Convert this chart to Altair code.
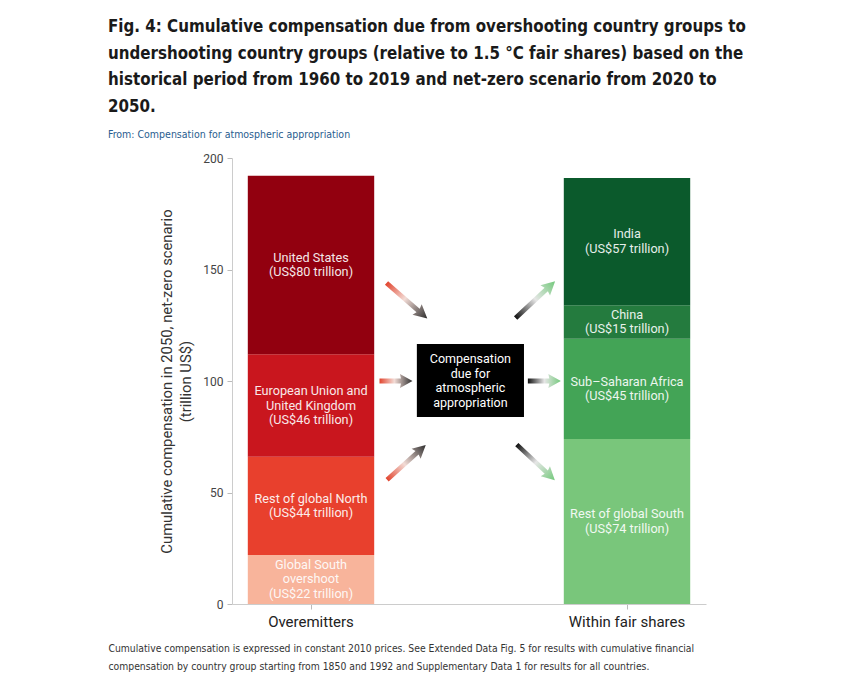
import altair as alt
import pandas as pd

# ---------------- data ----------------
sides = ["Overemitters", "Within fair shares"]

left_groups = ["Global South overshoot", "Rest of global North",
               "European Union and United Kingdom", "United States"]
left_values = [22, 44, 46, 80]
left_labels = ["Global South\novershoot\n(US$22 trillion)",
               "Rest of global North\n(US$44 trillion)",
               "European Union and\nUnited Kingdom\n(US$46 trillion)",
               "United States\n(US$80 trillion)"]
left_colors = ["#f8b49b", "#e8402d", "#c9161e", "#92000f"]

right_groups = ["Rest of global South", "Sub-Saharan Africa", "China", "India"]
right_values = [74, 45, 15, 57]
right_labels = ["Rest of global South\n(US$74 trillion)",
                "Sub\u2013Saharan Africa\n(US$45 trillion)",
                "China\n(US$15 trillion)",
                "India\n(US$57 trillion)"]
right_colors = ["#79c67b", "#43a456", "#247b3e", "#0b5a2c"]

y_ticks = [0, 50, 100, 150, 200]

title_lines = [
    "Fig. 4: Cumulative compensation due from overshooting country groups to",
    "undershooting country groups (relative to 1.5  \u00b0C fair shares) based on the",
    "historical period from 1960 to 2019 and net-zero scenario from 2020 to",
    "2050.",
]
subtitle = "From: Compensation for atmospheric appropriation"
caption = [
    "Cumulative compensation is expressed in constant 2010 prices. See Extended Data Fig. 5 for results with cumulative financial",
    "compensation by country group starting from 1850 and 1992 and Supplementary Data 1 for results for all countries.",
]
y_title = ["Cumulative compensation in 2050, net-zero scenario", "(trillion US$)"]
box_text = "Compensation\ndue for\natmospheric\nappropriation"

rows = []
for i, (g, v, l) in enumerate(zip(left_groups, left_values, left_labels)):
    rows.append({"side": sides[0], "group": g, "value": v, "label": l, "rank": i})
for i, (g, v, l) in enumerate(zip(right_groups, right_values, right_labels)):
    rows.append({"side": sides[1], "group": g, "value": v, "label": l, "rank": i})
df = pd.DataFrame(rows)

# annotation layout (independent 0-100 x scale, y in data units)
box_df = pd.DataFrame([{"ax": 39.0, "ax2": 61.6, "ay": 83.9, "ay2": 116.6}])
box_txt_df = pd.DataFrame([{"ax": 50.3, "ay": 100.0, "t": box_text}])

LONG = "M-1,-0.09L0.55,-0.09L0.5,-0.26L1,0L0.5,0.26L0.55,0.09L-1,0.09Z"
SHORT = "M-1,-0.15L0.3,-0.15L0.24,-0.42L1,0L0.24,0.42L0.3,0.15L-1,0.15Z"
arrows_left = pd.DataFrame([
    {"ax": 36.9, "ay": 136.0, "ang": 41, "sz": 54 * 54, "shp": LONG},
    {"ax": 34.6, "ay": 100.0, "ang": 0, "sz": 33 * 33, "shp": SHORT},
    {"ax": 36.8, "ay": 63.5, "ang": 318, "sz": 52 * 52, "shp": LONG},
])
arrows_right = pd.DataFrame([
    {"ax": 64.0, "ay": 136.5, "ang": 317, "sz": 54 * 54, "shp": LONG},
    {"ax": 65.9, "ay": 100.0, "ang": 0, "sz": 33 * 33, "shp": SHORT},
    {"ax": 64.1, "ay": 63.5, "ang": 43, "sz": 52 * 52, "shp": LONG},
])

grad_left = {"gradient": "linear", "x1": 0, "y1": 0, "x2": 1, "y2": 0,
             "stops": [{"offset": 0, "color": "#e2452f"},
                       {"offset": 0.45, "color": "#f3dcd6"},
                       {"offset": 1, "color": "#2e2e2e"}]}
grad_right = {"gradient": "linear", "x1": 0, "y1": 0, "x2": 1, "y2": 0,
              "stops": [{"offset": 0, "color": "#111111"},
                        {"offset": 0.5, "color": "#e6e6e6"},
                        {"offset": 1, "color": "#74c97c"}]}

SANS = "Roboto"
NARROW = "DejaVu Sans Condensed, Liberation Sans"

W, H = 474, 446
LH = 14.5  # text line height in px
PX2DATA = 200.0 / H

# ---------------- bars ----------------
yscale = alt.Scale(domain=[0, 200], nice=False, zero=True)
yaxis = alt.Axis(values=y_ticks, title=y_title, grid=False,
                 labelFontSize=12, labelColor="#444", labelFont=SANS,
                 tickSize=5, tickColor="#bbb", domainColor="#ccc",
                 titleFontSize=14.8, titleFontWeight="normal",
                 titleColor="#333", titleFont=SANS, titleLineHeight=19,
                 titlePadding=9, labelPadding=4)
xscale = alt.Scale(paddingInner=0.6, paddingOuter=0.05)
xaxis = alt.Axis(title=caption, labelAngle=0, labelFontSize=15,
                 labelColor="#222", labelFont=SANS, labelPadding=5,
                 tickSize=5, tickColor="#bbb", domainColor="#ccc",
                 titleX=-124, titleY=47, titleAlign="left",
                 titleBaseline="alphabetic", titleFontSize=10.3,
                 titleFontWeight="normal", titleColor="#333",
                 titleFont=NARROW, titleLineHeight=18)

stacked = alt.Chart(df).transform_stack(
    stack="value", groupby=["side"], sort=[alt.SortField("rank", order="ascending")],
    as_=["y0", "y1"]
).transform_calculate(
    mid="(datum.y0 + datum.y1) / 2 + (length(split(datum.label, '\\n')) - 1) * 0.5 * %f" % (LH * PX2DATA)
)

bars = stacked.mark_bar().encode(
    x=alt.X("side:N", sort=sides, scale=xscale, axis=xaxis),
    y=alt.Y("y0:Q", scale=yscale, axis=yaxis),
    y2="y1:Q",
    color=alt.Color("group:N",
                    scale=alt.Scale(domain=left_groups + right_groups,
                                    range=left_colors + right_colors),
                    legend=None),
)

bar_text = stacked.mark_text(lineBreak="\n", fontSize=12.7, font=SANS,
                             color="#ffffff", opacity=0.9, lineHeight=LH,
                             baseline="middle").encode(
    x=alt.X("side:N", sort=sides, scale=xscale, axis=xaxis),
    y=alt.Y("mid:Q", scale=yscale, axis=yaxis),
    text="label:N",
)

base = alt.layer(bars, bar_text)

# ---------------- annotations ----------------
ax_scale = alt.Scale(domain=[0, 100], nice=False, zero=False)

box = alt.Chart(box_df).mark_rect(color="#000000").encode(
    x=alt.X("ax:Q", scale=ax_scale, axis=None), x2="ax2:Q",
    y=alt.Y("ay:Q", scale=yscale, axis=yaxis), y2="ay2:Q",
)
btxt = alt.Chart(box_txt_df).transform_calculate(
    ty="datum.ay + (length(split(datum.t, '\\n')) - 1) * 0.5 * %f" % (LH * PX2DATA)
).mark_text(lineBreak="\n", fontSize=12.5, font=SANS, color="#ffffff",
            lineHeight=LH, baseline="middle").encode(
    x=alt.X("ax:Q", scale=ax_scale, axis=None),
    y=alt.Y("ty:Q", scale=yscale, axis=yaxis),
    text="t:N",
)


def arrows(d, grad):
    return alt.Chart(d).mark_point(filled=True, fill=grad, opacity=1,
                                   strokeWidth=0).encode(
        x=alt.X("ax:Q", scale=ax_scale, axis=None),
        y=alt.Y("ay:Q", scale=yscale, axis=yaxis),
        angle=alt.Angle("ang:Q", scale=None),
        size=alt.Size("sz:Q", scale=None),
        shape=alt.Shape("shp:N", scale=None),
    )


annot = alt.layer(box, btxt, arrows(arrows_left, grad_left),
                  arrows(arrows_right, grad_right))

chart = alt.layer(base, annot).resolve_scale(x="independent").properties(
    width=W, height=H,
    padding={"left": 100, "top": 11, "right": 5, "bottom": 5},
    title=alt.TitleParams(
        text=title_lines, subtitle=subtitle, anchor="start", frame="group",
        dx=-124, fontSize=16.8, font=NARROW, fontWeight="bold", color="#1a1a1a",
        lineHeight=26.5, subtitleFontSize=10.5, subtitleColor="#2a5d8f",
        subtitleFont=NARROW, subtitlePadding=14, offset=12,
    ),
).configure_view(stroke=None)

chart.save("out.html", embed_options={"renderer": "svg", "actions": False})
